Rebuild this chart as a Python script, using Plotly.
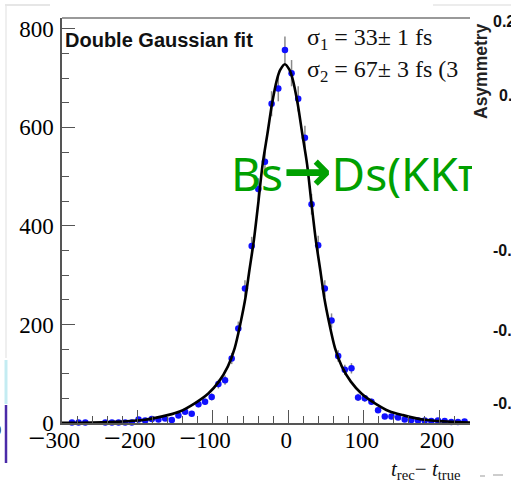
import plotly.graph_objects as go

# ---------------- data ----------------
bin_x = [-286.8, -278.0, -269.1, -242.6, -233.8, -225.0, -216.2, -207.4, -198.5,
         -189.7, -180.9, -172.1, -163.2, -154.4, -145.6, -136.8, -128.0, -119.1,
         -110.3, -101.5, -92.6, -83.8, -75.0, -66.2, -57.4, -48.5, -39.7, -30.9,
         -22.1, -13.2, -4.4, 4.4, 13.2, 22.1, 30.9, 39.7, 48.5, 57.4, 66.2, 75.0,
         83.8, 92.6, 101.5, 110.3, 119.1, 128.0, 136.8, 145.6, 154.4, 163.2,
         172.1, 180.9, 189.7, 198.5, 207.4, 216.2, 225.0, 233.8]
counts = [1, 1, 1, 1, 1, 1, 1, 1, 7,
          5, 8, 7, 9, 6, 15, 23, 19, 38,
          43, 53, 79, 87, 131, 192, 273, 359, 475, 530,
          648, 679, 757, 710, 658, 579, 444, 361, 273, 208, 136, 108,
          111, 52, 50, 43, 26, 13, 13, 11, 7, 6,
          5, 5, 4, 5, 4, 2, 2, 3]

fit_x = [-300, -260, -220, -190, -160, -143, -124, -106, -92, -80, -71, -63, -57,
         -51.5, -45.5, -39.5, -34, -27.5, -21.5, -15, -10.5, -4.5, 1.5, 6, 12.5,
         18.5, 25, 30.5, 36.5, 42.5, 48, 54, 62, 71, 83, 97, 115, 134, 152, 180,
         210, 241]
fit_y = [0.3, 1, 3, 6.5, 16, 24, 40, 60, 84, 115, 152, 205, 252,
         310, 372, 450, 525, 588, 648, 697, 717, 728, 717, 697, 648,
         588, 525, 450, 372, 310, 252, 205, 152, 115, 84, 60, 40, 24, 16, 6.5,
         3, 1]

MINUS = "<span style='font-size:30px'>\u2212</span>"
x_tickvals = [-300, -200, -100, 0, 100, 200]
x_ticktext = [MINUS + "300\u00a0\u00a0", MINUS + "200\u00a0\u00a0",
              MINUS + "100\u00a0\u00a0", "0", "100", "200"]
y_tickvals = [0, 200, 400, 600, 800]

# ---------------- layout geometry ----------------
W, H = 511, 481
L, R, T, B = 62, 470, 18, 423


def X(px):
    return (px - L) / (R - L)


def Y(py):
    return (B - py) / (B - T)


fig = go.Figure()
fig.add_trace(go.Scatter(
    x=bin_x, y=counts, mode="markers",
    marker=dict(color="#1010ff", size=6.5, line=dict(width=0)),
    error_y=dict(type="sqrt", color="#8a8a8a", thickness=1.5, width=0),
    cliponaxis=False, showlegend=False))
fig.add_trace(go.Scatter(
    x=fit_x, y=fit_y, mode="lines", line=dict(color="black", width=2.6, shape="spline", smoothing=0.8),
    showlegend=False))

axcol = "#555555"
serif = "Liberation Serif"
sans = "Liberation Sans"

fig.update_layout(
    width=W, height=H,
    margin=dict(l=L, r=W - R, t=T, b=H - B, pad=0),
    paper_bgcolor="white", plot_bgcolor="white",
    xaxis=dict(range=[-300, 241], showline=True, linecolor=axcol, linewidth=1.5,
               ticks="inside", ticklen=13, tickwidth=1.2, tickcolor=axcol,
               tickmode="array", tickvals=x_tickvals, ticktext=x_ticktext,
               tickfont=dict(family=serif, size=23, color="black"),
               showgrid=False, zeroline=False, ticklabelshift=-2, ticklabelstandoff=-4,
               minor=dict(tick0=0, dtick=20, ticks="inside", ticklen=7, tickwidth=1.2,
                          tickcolor=axcol, showgrid=False)),
    yaxis=dict(range=[0, 822], showline=True, linecolor=axcol, linewidth=1.5,
               ticks="inside", ticklen=13, tickwidth=1.2, tickcolor=axcol,
               tickmode="array", tickvals=y_tickvals,
               tickfont=dict(family=serif, size=23, color="black"),
               showgrid=False, zeroline=False, ticklabelstandoff=2,
               minor=dict(tick0=0, dtick=50, ticks="inside", ticklen=7, tickwidth=1.2,
                          tickcolor=axcol, showgrid=False)),
)

shapes = [
    dict(type="line", xref="paper", yref="paper", x0=0, x1=1, y0=1, y1=1,
         line=dict(color="#777777", width=1.5)),
    # fragments of neighbouring pictures
    dict(type="line", xref="paper", yref="paper", x0=X(5), x1=X(50), y0=Y(5), y1=Y(5),
         line=dict(color="#e6e6e6", width=2)),
    dict(type="line", xref="paper", yref="paper", x0=X(433), x1=X(511), y0=Y(5), y1=Y(5),
         line=dict(color="#ececec", width=2)),
    dict(type="line", xref="paper", yref="paper", x0=X(6), x1=X(6), y0=Y(6), y1=Y(358),
         line=dict(color="#efefef", width=2)),
    dict(type="line", xref="paper", yref="paper", x0=X(6), x1=X(6), y0=Y(360), y1=Y(404),
         line=dict(color="#c4ecf2", width=3)),
    dict(type="line", xref="paper", yref="paper", x0=X(6), x1=X(6), y0=Y(405), y1=Y(463),
         line=dict(color="#4a2aa8", width=2.5)),
    dict(type="line", xref="paper", yref="paper", x0=X(480), x1=X(485), y0=Y(476), y1=Y(476),
         line=dict(color="#bdbdbd", width=1.5)),
    dict(type="line", xref="paper", yref="paper", x0=X(493), x1=X(503), y0=Y(475), y1=Y(475),
         line=dict(color="#bdbdbd", width=1.5)),
]
fig.update_layout(shapes=shapes)

green_text = ("Bs<span style='font-family:DejaVu Sans;font-weight:bold;font-size:58px'>\u2192</span>"
              "Ds(KK\u03c0)")

ann = [
    dict(text="<b>Double Gaussian fit</b>", x=X(63), y=Y(40), xanchor="left", yanchor="middle",
         font=dict(family=sans, size=20, color="#111111")),
    dict(text="\u03c3<sub>1</sub> = 33\u00b1 1 fs", x=X(305), y=Y(39), xanchor="left", yanchor="middle",
         font=dict(family=serif, size=24, color="#111111")),
    dict(text="\u03c3<sub>2</sub> = 67\u00b1 3 fs (3\u00a0\u00a0", x=X(305), y=Y(71), xanchor="left",
         yanchor="middle", width=165, align="left",
         font=dict(family=serif, size=24, color="#111111")),
    dict(text=green_text, x=X(229), y=Y(171), xanchor="left", yanchor="middle",
         width=241, align="left",
         font=dict(family="Noto Sans", size=46, color="#00a000")),
    dict(text="<i>t</i><sub>rec</sub>\u2212 <i>t</i><sub>true</sub>", x=X(389), y=Y(470),
         xanchor="left", yanchor="middle",
         font=dict(family=serif, size=21, color="#111111")),
    dict(text="<b>Asymmetry</b>", x=X(481), y=Y(71), xanchor="center", yanchor="middle",
         textangle=-90, font=dict(family=sans, size=17.5, color="#222222")),
    dict(text="<b>0.2</b>", x=X(491), y=Y(22), xanchor="left", yanchor="middle",
         font=dict(family=sans, size=16, color="#111111")),
    dict(text="<b>0.1</b>", x=X(497), y=Y(96), xanchor="left", yanchor="middle",
         font=dict(family=sans, size=16, color="#111111")),
    dict(text="<b>-0.1</b>", x=X(491), y=Y(250), xanchor="left", yanchor="middle",
         font=dict(family=sans, size=16, color="#111111")),
    dict(text="<b>-0.2</b>", x=X(491), y=Y(330), xanchor="left", yanchor="middle",
         font=dict(family=sans, size=16, color="#111111")),
    dict(text="<b>-0.3</b>", x=X(491), y=Y(403), xanchor="left", yanchor="middle",
         font=dict(family=sans, size=16, color="#111111")),
    dict(text="0", x=X(3), y=Y(429), xanchor="right", yanchor="middle",
         font=dict(family=sans, size=15, color="#333333")),
]
for a in ann:
    a.setdefault("xref", "paper")
    a.setdefault("yref", "paper")
    a.setdefault("showarrow", False)
fig.update_layout(annotations=ann)

fig.write_html("out.html", config={"displayModeBar": False},
               post_script="document.body.style.margin='0px';document.body.style.overflow='hidden';")
